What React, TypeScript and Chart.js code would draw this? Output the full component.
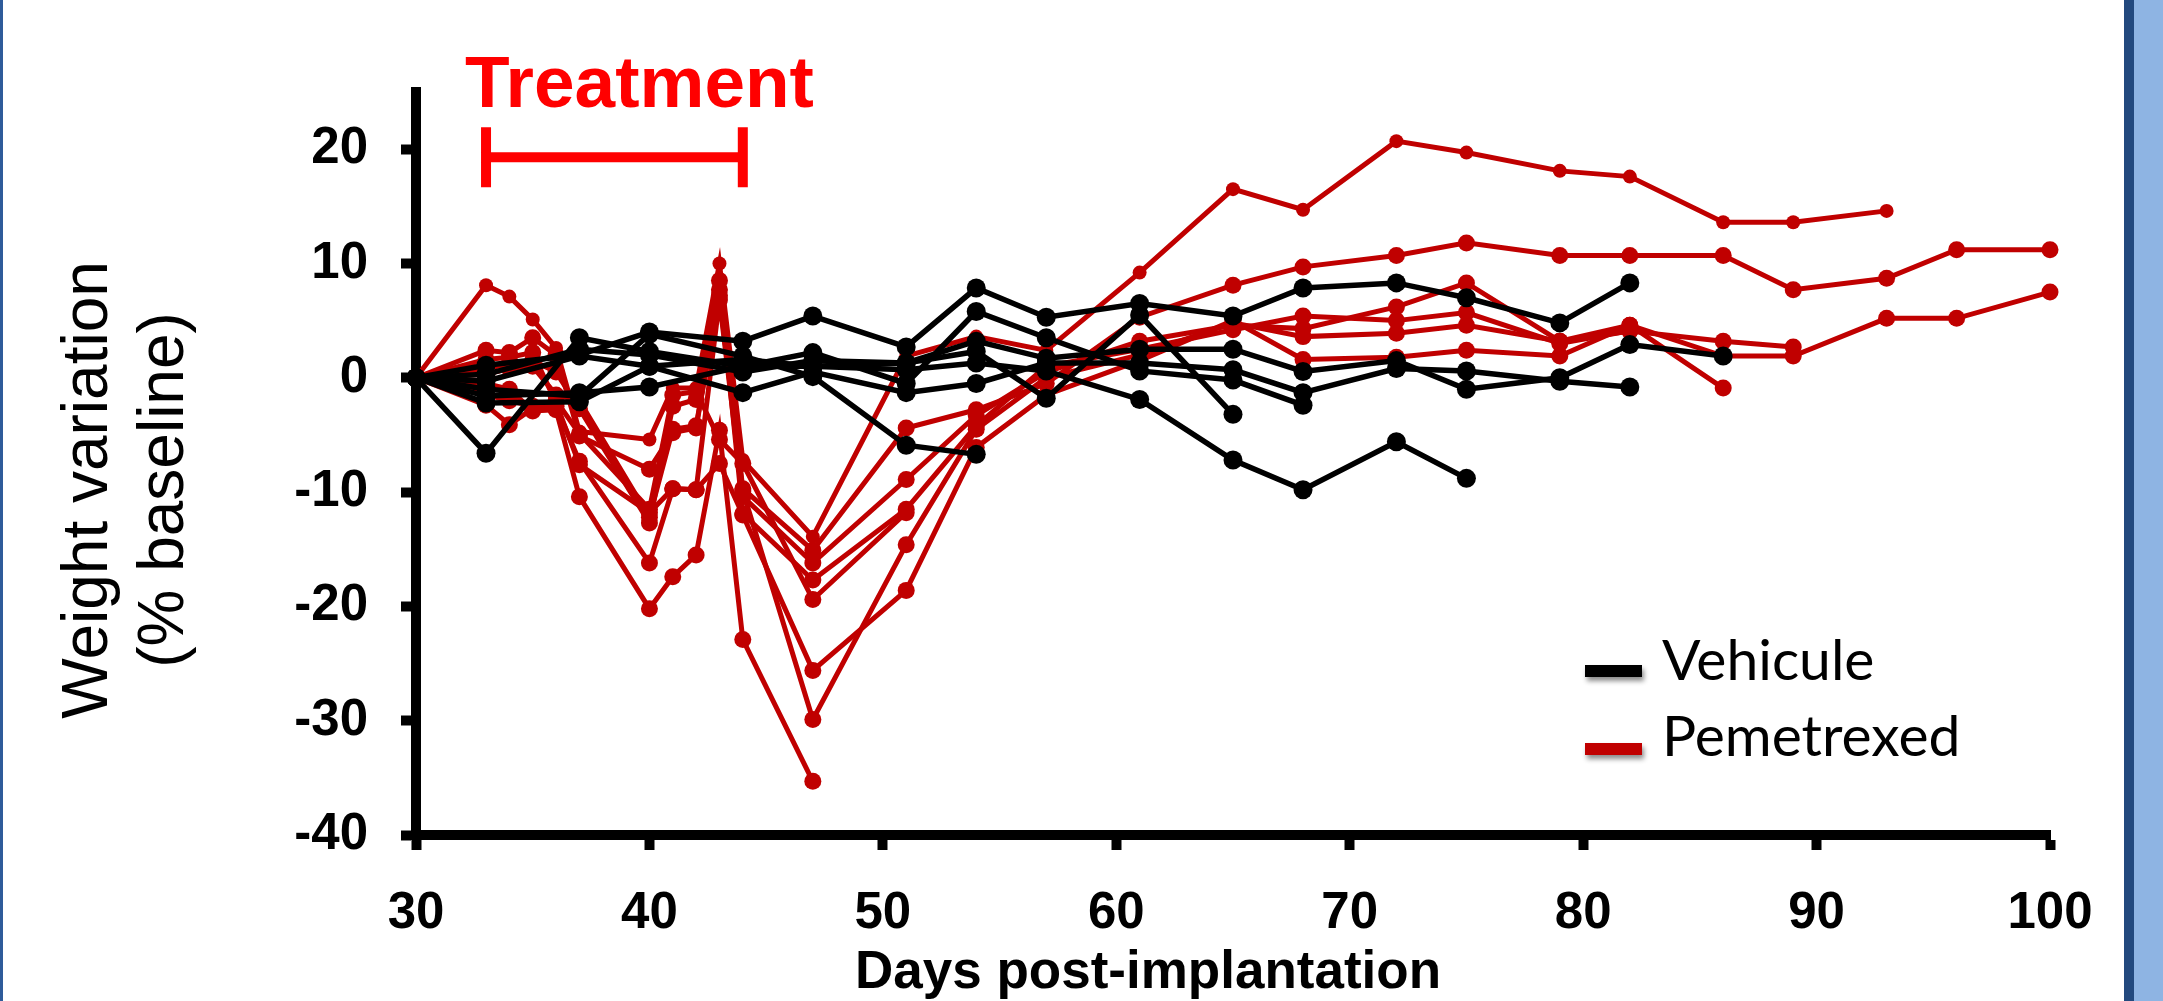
import React, { useEffect, useRef } from "react";
import { Chart, registerables } from "chart.js";

Chart.register(...registerables);

const W = 2163;
const H = 1001;

// ---- axis ticks ----
const xTickValues = [30, 40, 50, 60, 70, 80, 90, 100];
const yTickValues = [-40, -30, -20, -10, 0, 10, 20];

// ---- measurement days ----
const pemDays = [30, 33, 34, 35, 36, 37, 40, 41, 42, 43, 44, 47, 51, 54, 57, 61, 65, 68, 72, 75, 79, 82, 86, 89, 93, 96, 100];
const vehDays = [30, 33, 37, 40, 44, 47, 51, 54, 57, 61, 65, 68, 72, 75, 79, 82, 86];

// ---- Pemetrexed mice (% weight variation) ----
const pem1 = [0, 8.1, 7.1, 5.1, 2.6, -4.7, -5.4, -0.9, -0.9, 10.0, -7.2, -13.9, 1.9, 3.6, 2.4, 9.2, 16.5, 14.7, 20.7, 19.7, 18.1, 17.6, 13.6, 13.6, 14.6, null, null];
const pem2 = [0, 2.4, 2.2, 3.5, 2.0, -5.1, -8.0, -4.8, -4.4, 7.7, -9.7, -15.1, -4.4, -2.8, -0.5, 5.3, 8.1, 9.7, 10.7, 11.8, 10.7, 10.7, 10.7, 7.7, 8.7, 11.2, 11.2];
const pem3 = [0, 1.6, 1.8, 2.2, -2.2, -7.6, -11.8, -9.7, -9.8, 6.8, -10.4, -16.2, -8.9, -3.3, 0.5, 3.2, 4.6, 4.3, 6.2, 8.3, 3.2, 4.6, -0.9, null, null, null, null];
const pem4 = [0, 0.8, 1.2, 1.5, 0.5, -2.7, -12.7, -2.5, -1.9, 8.5, -11.9, -17.7, -11.5, -4.2, 1.0, 2.5, 4.2, 5.4, 5.0, 5.7, 3.0, 4.1, 3.2, 2.7, null, null, null];
const pem5 = [0, -0.5, -1.0, -2.9, -2.8, -10.4, -20.2, -17.4, -15.5, -4.6, -22.9, -35.3, null, null, null, null, null, null, null, null, null, null, null, null, null, null, null];
const pem6 = [0, -2.4, -4.1, -2.7, -2.5, -7.3, -16.2, -9.7, -9.8, -7.5, -12.0, -25.6, -18.6, -6.1, -1.5, 1.5, 5.0, 1.6, 1.8, 2.4, 1.9, 4.6, 1.9, 1.9, 5.2, 5.2, 7.5];
const pem7 = [0, 0.3, 0.8, 1.0, -1.5, -2.0, -12.2, -4.5, -4.2, 7.2, -9.9, -29.9, -14.6, -4.5, 0.0, 2.0, 4.8, 3.6, 3.9, 4.6, 3.2, 4.1, null, null, null, null, null];
const pem8 = [0, -1.5, -2.0, -2.5, -2.0, -4.9, -11.5, -1.5, -1.2, -5.4, -7.5, -19.4, -11.8, null, null, null, null, null, null, null, null, null, null, null, null, null, null];

// ---- Vehicule mice (% weight variation) ----
const veh1 = [0, -0.3, 1.9, 1.0, 1.6, 1.0, 0.7, 1.3, 0.6, -1.9, -7.2, -9.8, -5.6, -8.8, null, null, null];
const veh2 = [0, 1.1, 2.0, 4.0, 3.2, 5.4, 2.7, 7.85, 5.3, 6.5, 5.4, 7.85, 8.3, 7.0, 4.8, 8.3, null];
const veh3 = [0, -6.6, 3.5, 2.3, 1.0, 2.2, -0.5, 5.8, 3.5, 0.6, -0.2, -2.4, null, null, null, null, null];
const veh4 = [0, -1.6, -1.3, -0.8, 1.0, 1.0, 1.3, 3.2, 1.7, 2.5, 2.5, 0.55, 1.5, -1.0, 0.0, 2.9, 1.9];
const veh5 = [0, -2.2, -2.1, 1.0, -1.3, 0.5, -1.3, -0.5, 1.3, 1.3, 0.7, -1.3, 0.8, 0.6, -0.3, -0.8, null];
const veh6 = [0, -1.0, -1.6, 3.8, 1.9, 0.1, -5.9, -6.7, null, null, null, null, null, null, null, null, null];
const veh7 = [0, 0.3, 2.5, 2.0, 0.5, 1.5, 1.3, 2.3, -1.8, 5.5, -3.2, null, null, null, null, null, null];

// ---- annotation ----
const treatmentDays = [33, 44];
const treatmentLevel = 19.3;
const treatmentLabel = "Treatment";
const legendLabels = ["Vehicule", "Pemetrexed"];
const yTitleLines = ["Weight variation", "(% baseline)"];
const xTitle = "Days post-implantation";

const RED = "#C00000";
const BLACK = "#000000";
const FONT = "'Liberation Sans', Arial, sans-serif";

const pemSeries = [pem1, pem2, pem3, pem4, pem5, pem6, pem7, pem8];
const vehSeries = [veh1, veh2, veh3, veh4, veh5, veh6, veh7];

function toPoints(days: number[], vals: (number | null)[]) {
  const pts: { x: number; y: number }[] = [];
  days.forEach((d, i) => {
    const v = vals[i];
    if (v !== null && v !== undefined) pts.push({ x: d, y: v });
  });
  return pts;
}

const overlayPlugin = {
  id: "overlay",
  afterDraw(chart: any) {
    const ctx = chart.ctx as CanvasRenderingContext2D;
    const xs = chart.scales.x;
    const ys = chart.scales.y;
    ctx.save();

    // Treatment bracket
    const x0 = xs.getPixelForValue(treatmentDays[0]);
    const x1 = xs.getPixelForValue(treatmentDays[1]);
    const yb = ys.getPixelForValue(treatmentLevel);
    ctx.strokeStyle = "#FF0000";
    ctx.lineWidth = 10;
    ctx.lineCap = "butt";
    ctx.beginPath();
    ctx.moveTo(x0, yb);
    ctx.lineTo(x1, yb);
    ctx.moveTo(x0, yb - 30);
    ctx.lineTo(x0, yb + 30);
    ctx.moveTo(x1, yb - 30);
    ctx.lineTo(x1, yb + 30);
    ctx.stroke();

    ctx.fillStyle = "#FF0000";
    ctx.font = `bold 73px ${FONT}`;
    ctx.textAlign = "left";
    ctx.textBaseline = "alphabetic";
    ctx.fillText(treatmentLabel, 465, 107);

    // Y axis title (two lines, rotated)
    ctx.fillStyle = "#000";
    ctx.font = `64px ${FONT}`;
    ctx.textAlign = "center";
    const baselines = [107, 183];
    yTitleLines.forEach((line, i) => {
      ctx.save();
      ctx.translate(baselines[i], 490);
      ctx.rotate(-Math.PI / 2);
      ctx.fillText(line, 0, 0);
      ctx.restore();
    });

    // X axis title
    ctx.font = `bold 53px ${FONT}`;
    ctx.textAlign = "left";
    ctx.fillText(xTitle, 855, 988);

    // Legend
    const colors = [BLACK, RED];
    const legendY = [671, 749];
    const textBase = [680, 756];
    legendLabels.forEach((lab, i) => {
      ctx.save();
      ctx.shadowColor = "rgba(0,0,0,0.45)";
      ctx.shadowBlur = 5;
      ctx.shadowOffsetX = 2;
      ctx.shadowOffsetY = 4;
      ctx.fillStyle = colors[i];
      ctx.fillRect(1585, legendY[i] - 6, 57, 12);
      ctx.restore();
      ctx.fillStyle = "#000";
      ctx.font = `57px Lato, 'Open Sans', sans-serif`;
      ctx.textAlign = "left";
      ctx.fillText(lab, 1662, textBase[i]);
    });

    ctx.restore();
  },
};

export default function App() {
  const ref = useRef<HTMLCanvasElement>(null);

  useEffect(() => {
    const canvas = ref.current;
    if (!canvas) return;
    Chart.defaults.font.family = FONT;

    const datasets: any[] = [];
    vehSeries.forEach((v) => {
      datasets.push({
        data: toPoints(vehDays, v),
        borderColor: BLACK,
        backgroundColor: BLACK,
        pointBackgroundColor: BLACK,
        borderWidth: 5.5,
        pointRadius: 9.5,
        pointBorderWidth: 0,
        tension: 0,
        clip: false,
        order: 0,
      });
    });
    pemSeries.forEach((v, i) => {
      datasets.push({
        data: toPoints(pemDays, v),
        borderColor: RED,
        backgroundColor: RED,
        pointBackgroundColor: RED,
        borderWidth: 5,
        pointRadius: i === 0 ? 7 : 8.5,
        pointBorderWidth: 0,
        tension: 0,
        clip: false,
        order: 1,
      });
    });

    const chart = new Chart(canvas, {
      type: "line",
      data: { datasets },
      options: {
        animation: false,
        responsive: false,
        maintainAspectRatio: false,
        layout: { padding: { top: 92, right: 113, left: 0, bottom: 0 } },
        plugins: {
          legend: { display: false },
          tooltip: { enabled: false },
          title: { display: false },
        },
        scales: {
          x: {
            type: "linear",
            min: 30,
            max: 100,
            afterBuildTicks: (s: any) => {
              s.ticks = xTickValues.map((v) => ({ value: v }));
            },
            afterFit: (s: any) => {
              s.height = H - 835;
            },
            border: { display: true, width: 10, color: BLACK },
            grid: {
              drawOnChartArea: false,
              drawTicks: true,
              tickLength: 15,
              tickWidth: 10,
              tickColor: BLACK,
            },
            ticks: {
              color: BLACK,
              font: { size: 51, weight: "bold", family: FONT },
              padding: 33,
              maxRotation: 0,
              autoSkip: false,
            },
          },
          y: {
            type: "linear",
            min: -40,
            max: 25,
            afterBuildTicks: (s: any) => {
              s.ticks = yTickValues.map((v) => ({ value: v }));
            },
            afterFit: (s: any) => {
              s.width = 416;
            },
            border: { display: true, width: 10, color: BLACK },
            grid: {
              drawOnChartArea: false,
              drawTicks: true,
              tickLength: 15,
              tickWidth: 10,
              tickColor: BLACK,
            },
            ticks: {
              color: BLACK,
              font: { size: 51, weight: "bold", family: FONT },
              padding: 33,
              autoSkip: false,
            },
          },
        },
      },
      plugins: [overlayPlugin],
    } as any);

    return () => chart.destroy();
  }, []);

  return (
    <div
      style={{
        position: "fixed",
        left: 0,
        top: 0,
        width: W,
        height: H,
        background: "#ffffff",
        overflow: "hidden",
      }}
    >
      <canvas
        ref={ref}
        width={W}
        height={H}
        style={{ position: "absolute", left: 0, top: 0, width: W, height: H }}
      />
      <div style={{ position: "absolute", left: 0, top: 0, width: 3, height: H, background: "#2F5B9A" }} />
      <div style={{ position: "absolute", left: 2124, top: 0, width: 10, height: H, background: "#22497E" }} />
      <div style={{ position: "absolute", left: 2134, top: 0, width: 29, height: H, background: "#8EB4E3" }} />
    </div>
  );
}
